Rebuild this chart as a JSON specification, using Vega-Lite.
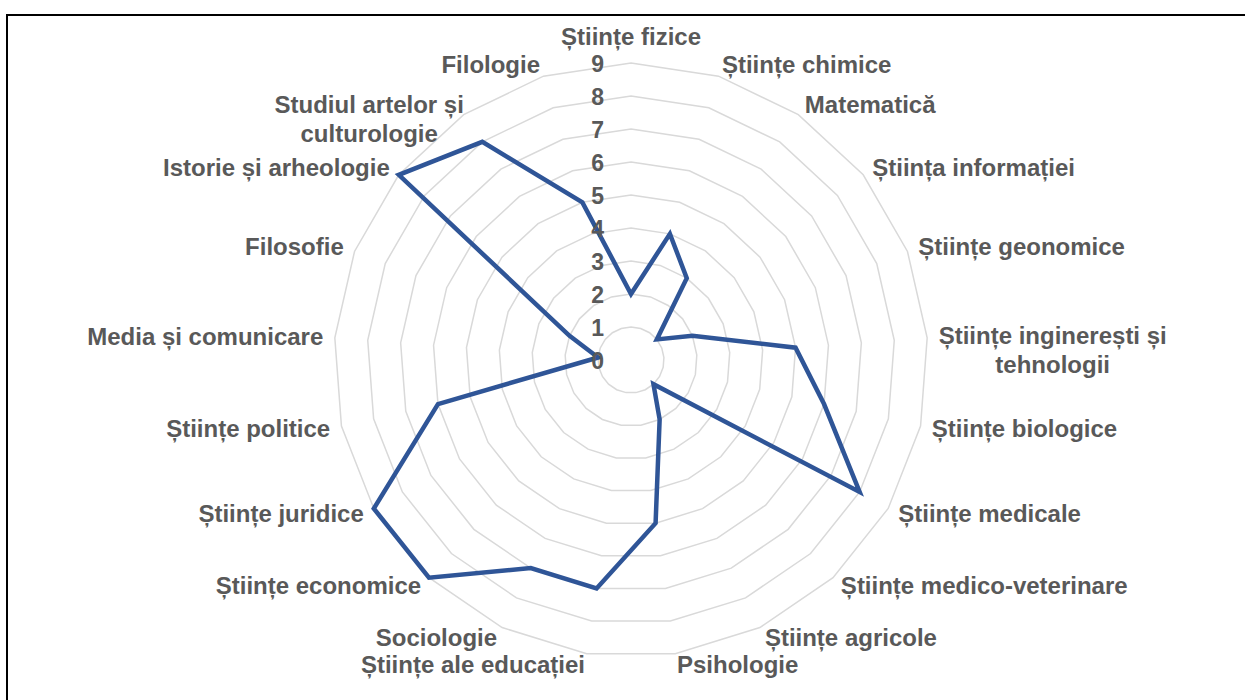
{
  "$schema": "https://vega.github.io/schema/vega-lite/v6.json",
  "width": 1245,
  "height": 700,
  "autosize": {"type": "none"},
  "padding": {"left": 7, "top": 15, "right": 0, "bottom": 0},
  "background": "white",
  "config": {"view": {"stroke": "black", "strokeWidth": 2}, "font": "Liberation Sans"},
  "datasets": {
    "cats": [
      {"idx": 0, "category": "Științe fizice", "value": 2},
      {"idx": 1, "category": "Științe chimice", "value": 4},
      {"idx": 2, "category": "Matematică", "value": 3},
      {"idx": 3, "category": "Știința informației", "value": 1},
      {"idx": 4, "category": "Științe geonomice", "value": 2},
      {"idx": 5, "category": "Științe inginerești și\ntehnologii", "value": 5},
      {"idx": 6, "category": "Științe biologice", "value": 6},
      {"idx": 7, "category": "Științe medicale", "value": 8},
      {"idx": 8, "category": "Științe medico-veterinare", "value": 1},
      {"idx": 9, "category": "Științe agricole", "value": 2},
      {"idx": 10, "category": "Psihologie", "value": 5},
      {"idx": 11, "category": "Științe ale educației", "value": 7},
      {"idx": 12, "category": "Sociologie", "value": 7},
      {"idx": 13, "category": "Științe economice", "value": 9},
      {"idx": 14, "category": "Științe juridice", "value": 9},
      {"idx": 15, "category": "Științe politice", "value": 6},
      {"idx": 16, "category": "Media și comunicare", "value": 1},
      {"idx": 17, "category": "Filosofie", "value": 2},
      {"idx": 18, "category": "Istorie și arheologie", "value": 9},
      {"idx": 19, "category": "Studiul artelor și\nculturologie", "value": 8},
      {"idx": 20, "category": "Filologie", "value": 5}
    ],
    "levels": [
      {"level": 0}, {"level": 1}, {"level": 2}, {"level": 3}, {"level": 4},
      {"level": 5}, {"level": 6}, {"level": 7}, {"level": 8}, {"level": 9}
    ]
  },
  "layer": [
    {
      "data": {"name": "cats"},
      "transform": [
        {"calculate": "[1,2,3,4,5,6,7,8,9]", "as": "lvl"},
        {"flatten": ["lvl"]},
        {"calculate": "datum.idx * 2 * PI / 21", "as": "ang"},
        {"calculate": "datum.lvl * sin(datum.ang)", "as": "gx"},
        {"calculate": "datum.lvl * cos(datum.ang)", "as": "gy"}
      ],
      "mark": {"type": "line", "interpolate": "linear-closed", "stroke": "#D9D9D9", "strokeWidth": 1.5},
      "encoding": {
        "x": {"field": "gx", "type": "quantitative", "scale": {"domain": [-18.909, 18.818], "nice": false, "zero": false}, "axis": null},
        "y": {"field": "gy", "type": "quantitative", "scale": {"domain": [-10.758, 10.4545], "nice": false, "zero": false}, "axis": null},
        "detail": {"field": "lvl", "type": "nominal"},
        "order": {"field": "idx", "type": "quantitative"}
      }
    },
    {
      "data": {"name": "cats"},
      "transform": [
        {"calculate": "datum.idx * 2 * PI / 21", "as": "ang"},
        {"calculate": "datum.value * sin(datum.ang)", "as": "px"},
        {"calculate": "datum.value * cos(datum.ang)", "as": "py"}
      ],
      "mark": {"type": "line", "interpolate": "linear-closed", "stroke": "#2F5597", "strokeWidth": 4.5, "strokeJoin": "miter"},
      "encoding": {
        "x": {"field": "px", "type": "quantitative", "axis": null},
        "y": {"field": "py", "type": "quantitative", "axis": null},
        "order": {"field": "idx", "type": "quantitative"}
      }
    },
    {
      "data": {"name": "levels"},
      "mark": {"type": "text", "align": "right", "baseline": "middle", "dx": -27, "dy": 2, "fontSize": 23, "fontWeight": "bold", "fill": "#595959"},
      "encoding": {
        "x": {"datum": 0, "type": "quantitative"},
        "y": {"field": "level", "type": "quantitative"},
        "text": {"field": "level", "type": "quantitative"}
      }
    },
    {
      "data": {"name": "cats"},
      "transform": [
        {"calculate": "datum.idx * 2 * PI / 21", "as": "ang"},
        {"calculate": "9.35 * sin(datum.ang)", "as": "lx"},
        {"calculate": "9.35 * cos(datum.ang)", "as": "ly"}
      ],
      "layer": [
        {
          "transform": [{"filter": "datum.idx == 0"}],
          "mark": {"type": "text", "align": "center", "baseline": "middle", "dy": -13, "fontSize": 24, "fontWeight": "bold", "fill": "#595959"},
          "encoding": {
            "x": {"field": "lx", "type": "quantitative"},
            "y": {"field": "ly", "type": "quantitative"},
            "text": {"field": "category", "type": "nominal"}
          }
        },
        {
          "transform": [{"filter": "datum.idx >= 1 && datum.idx <= 10 && datum.idx != 5"}],
          "mark": {"type": "text", "align": "left", "baseline": "middle", "dy": 1, "fontSize": 24, "fontWeight": "bold", "fill": "#595959"},
          "encoding": {
            "x": {"field": "lx", "type": "quantitative"},
            "y": {"field": "ly", "type": "quantitative"},
            "text": {"field": "category", "type": "nominal"}
          }
        },
        {
          "transform": [{"filter": "datum.idx == 5"}],
          "mark": {"type": "text", "align": "center", "baseline": "middle", "dx": 114, "lineBreak": "\n", "lineHeight": 29, "fontSize": 24, "fontWeight": "bold", "fill": "#595959"},
          "encoding": {
            "x": {"field": "lx", "type": "quantitative"},
            "y": {"field": "ly", "type": "quantitative"},
            "text": {"field": "category", "type": "nominal"}
          }
        },
        {
          "transform": [{"filter": "datum.idx >= 11 && datum.idx != 19"}],
          "mark": {"type": "text", "align": "right", "baseline": "middle", "dy": 1, "fontSize": 24, "fontWeight": "bold", "fill": "#595959"},
          "encoding": {
            "x": {"field": "lx", "type": "quantitative"},
            "y": {"field": "ly", "type": "quantitative"},
            "text": {"field": "category", "type": "nominal"}
          }
        },
        {
          "transform": [{"filter": "datum.idx == 19"}],
          "mark": {"type": "text", "align": "center", "baseline": "middle", "dx": -88, "dy": 1, "lineBreak": "\n", "lineHeight": 29, "fontSize": 24, "fontWeight": "bold", "fill": "#595959"},
          "encoding": {
            "x": {"field": "lx", "type": "quantitative"},
            "y": {"field": "ly", "type": "quantitative"},
            "text": {"field": "category", "type": "nominal"}
          }
        }
      ]
    }
  ]
}
